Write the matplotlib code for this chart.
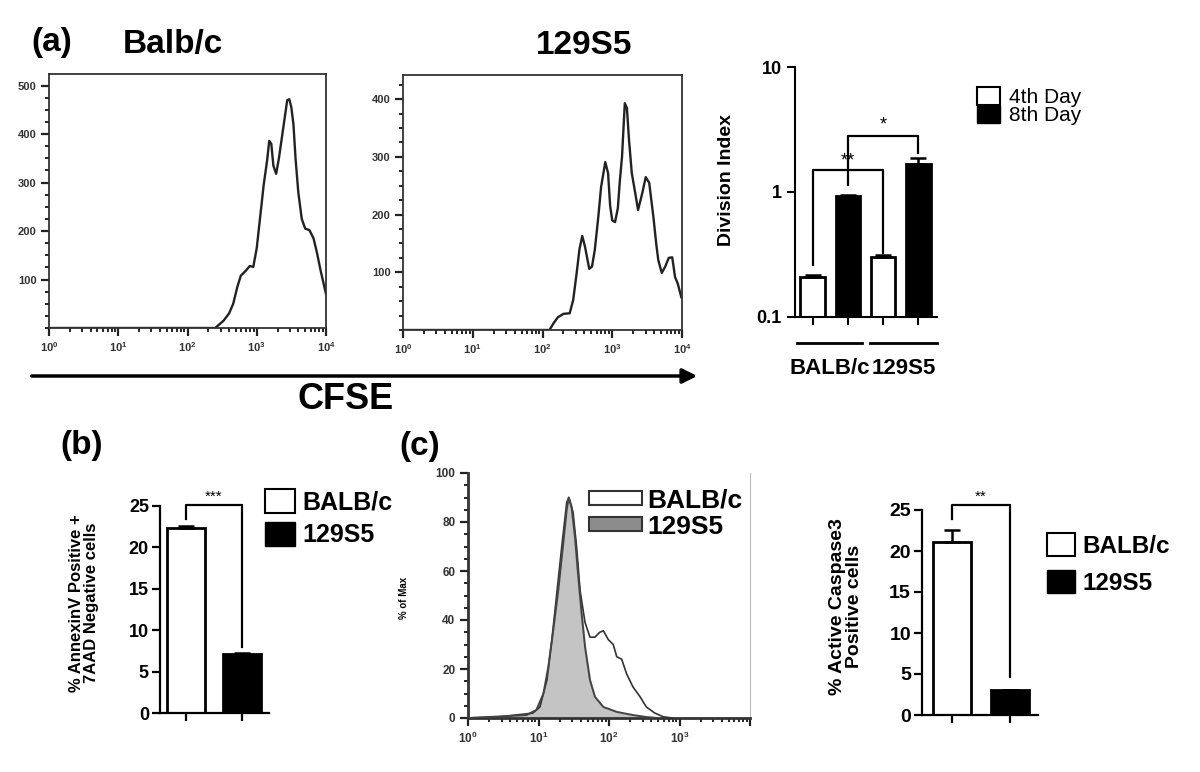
import numpy as np
import matplotlib
matplotlib.use("Agg")
import matplotlib.pyplot as plt
from matplotlib.patches import Patch, FancyArrowPatch
from matplotlib.ticker import LogLocator, NullFormatter, MultipleLocator, FixedLocator
import matplotlib.transforms as mtransforms

plt.rcParams['font.family'] = ['Liberation Sans', 'DejaVu Sans']
plt.rcParams['mathtext.fontset'] = 'custom'
plt.rcParams['mathtext.rm'] = 'Liberation Sans:bold'
plt.rcParams['mathtext.bf'] = 'Liberation Sans:bold'

# (a) CFSE histograms, x as log10(CFSE)
cfse_log_balb = [0.0, 2.40, 2.44, 2.52, 2.60, 2.66, 2.72, 2.77, 2.84, 2.90,
                 2.95, 3.00, 3.05, 3.10, 3.15, 3.18, 3.21, 3.24, 3.28, 3.32,
                 3.36, 3.40, 3.44, 3.47, 3.50, 3.53, 3.56, 3.60, 3.65, 3.70,
                 3.76, 3.82, 3.87, 3.92, 3.96, 4.0]
counts_balb = [0, 0, 5, 15, 30, 50, 85, 108, 118, 128,
               126, 165, 230, 295, 346, 386, 380, 335, 318, 350,
               390, 430, 470, 472, 455, 420, 350, 280, 225, 205,
               202, 185, 155, 120, 95, 70]

cfse_log_129 = [0.0, 2.10, 2.16, 2.22, 2.30, 2.39, 2.44, 2.49, 2.53, 2.57,
                2.61, 2.67, 2.71, 2.75, 2.80, 2.84, 2.90, 2.94, 2.97, 3.00,
                3.04, 3.08, 3.11, 3.14, 3.18, 3.21, 3.24, 3.28, 3.33, 3.37,
                3.43, 3.48, 3.53, 3.59, 3.63, 3.66, 3.71, 3.76, 3.81, 3.86,
                3.90, 3.94, 3.99]
counts_129 = [0, 0, 12, 22, 28, 29, 52, 99, 140, 163,
              144, 106, 110, 139, 196, 248, 291, 272, 215, 190,
              187, 211, 260, 300, 393, 385, 330, 272, 237, 208,
              237, 265, 255, 196, 150, 121, 99, 110, 125, 126,
              92, 80, 57]

# (a) division index
div_groups = ["BALB/c", "129S5"]
div_values = [0.21, 0.93, 0.30, 1.67]
div_errors = [0.008, 0.012, 0.015, 0.20]
div_colors = ["white", "black", "white", "black"]
div_days = ["4th Day", "8th Day"]

# (b) annexin V
strains = ["BALB/c", "129S5"]
annexin_values = [22.4, 7.1]
annexin_errors = [0.15, 0.15]

# (c) caspase3 histogram (% of max), x as log10(intensity)
casp_log_129 = [0.0, 0.36, 0.83, 0.97, 1.07, 1.14, 1.21, 1.28, 1.35, 1.40,
                1.43, 1.47, 1.52, 1.56, 1.61, 1.66, 1.73, 1.80, 1.92, 2.11,
                2.34, 2.53, 2.7]
pct_129 = [0, 0.5, 1.2, 3.3, 10, 21, 36, 52, 71, 85,
           90, 86, 73, 59, 43, 29, 15.5, 8.7, 4.5, 2.5,
           1.2, 0.4, 0]
casp_log_balb = [0.0, 0.45, 0.92, 1.02, 1.12, 1.19, 1.26, 1.33, 1.40, 1.43,
                 1.49, 1.54, 1.59, 1.66, 1.73, 1.80, 1.87, 1.92, 1.99, 2.06,
                 2.11, 2.18, 2.25, 2.34, 2.44, 2.53, 2.65, 2.77, 2.9]
pct_balb = [0, 0.5, 2, 4.5, 15.5, 32, 51, 70, 88, 90,
            84, 70, 52, 39, 33, 33, 35, 35.6, 32, 30,
            25, 24, 18, 12.7, 8.7, 4.5, 2, 0.5, 0]

# (c) active caspase3
caspase_values = [21.1, 3.0]
caspase_errors = [1.5, 0.1]

W, H = 1200, 772
fig = plt.figure(figsize=(12, 7.72), dpi=100)


def px_box(x0, y0, x1, y1):
    return [x0 / W, 1 - y1 / H, (x1 - x0) / W, (y1 - y0) / H]


def fpos(x, y):
    return (x / W, 1 - y / H)


decade_labels = ["$10^{0}$", "$10^{1}$", "$10^{2}$", "$10^{3}$", "$10^{4}$"]


def style_hist(ax, ymax, yticks, yminor, xlabels, lsize):
    ax.set_xscale("log")
    ax.set_xlim(1, 1e4)
    ax.set_ylim(0, ymax)
    ax.xaxis.set_major_locator(FixedLocator([1, 10, 100, 1000, 10000]))
    ax.set_xticklabels(xlabels)
    ax.xaxis.set_minor_locator(LogLocator(base=10, subs=np.arange(2, 10)))
    ax.xaxis.set_minor_formatter(NullFormatter())
    ax.set_yticks(yticks)
    ax.yaxis.set_minor_locator(MultipleLocator(yminor))
    ax.tick_params(which="major", direction="out", length=6, width=1.6,
                   labelsize=lsize, colors="#222222", pad=3)
    ax.tick_params(which="minor", direction="out", length=3, width=1.2)
    for lab in ax.get_xticklabels() + ax.get_yticklabels():
        lab.set_fontweight("bold")
        lab.set_color("#333333")
    for s in ax.spines.values():
        s.set_linewidth(1.3)
        s.set_color("#333333")


# ---- (a) CFSE histograms ----
ax1 = fig.add_axes(px_box(49, 74, 326, 328))
ax1.plot(10 ** np.array(cfse_log_balb), counts_balb, color="#222222", lw=1.7)
style_hist(ax1, 524, [100, 200, 300, 400, 500], 25, decade_labels, 8)

ax2 = fig.add_axes(px_box(403, 75, 682, 330))
ax2.plot(10 ** np.array(cfse_log_129), counts_129, color="#222222", lw=1.7)
style_hist(ax2, 442, [100, 200, 300, 400], 25, decade_labels, 8)

fig.text(*fpos(52, 42), "(a)", fontsize=24, fontweight="bold", ha="center", va="center")
fig.text(*fpos(173, 45), "Balb/c", fontsize=24, fontweight="bold", ha="center", va="center")
fig.text(*fpos(584, 45), "129S5", fontsize=24, fontweight="bold", ha="center", va="center")

fig.add_artist(FancyArrowPatch(fpos(29, 376), fpos(700, 376), transform=fig.transFigure,
                               arrowstyle="-|>", mutation_scale=22, lw=2.5, color="black"))
fig.text(*fpos(346, 400), "CFSE", fontsize=26, fontweight="bold", ha="center", va="center")

# ---- (a) division index ----
axd = fig.add_axes(px_box(795, 67, 937, 317))
xd = np.arange(len(div_values))
axd.bar(xd, div_values, width=0.7, color=div_colors, edgecolor="black", lw=2,
        yerr=[np.zeros(len(div_errors)), div_errors], capsize=6,
        error_kw=dict(elinewidth=1.8, capthick=1.8, ecolor="black"))
axd.set_yscale("log")
axd.set_ylim(0.1, 10)
axd.set_xlim(-0.5, 3.53)
axd.set_yticks([0.1, 1, 10])
axd.set_yticklabels(["0.1", "1", "10"])
axd.yaxis.set_minor_locator(plt.NullLocator())
axd.set_xticks(xd)
axd.set_xticklabels([])
axd.tick_params(direction="out", length=6, width=1.5, labelsize=13)
for lab in axd.get_yticklabels():
    lab.set_fontweight("bold")
for s in ["top", "right"]:
    axd.spines[s].set_visible(False)
for s in ["left", "bottom"]:
    axd.spines[s].set_linewidth(1.5)
axd.set_ylabel("Division Index", fontsize=14, fontweight="bold")
axd.yaxis.set_label_coords(-0.42, 0.55)

# significance brackets
axd.plot([0, 0, 2, 2], [0.26, 1.5, 1.5, 0.325], color="black", lw=1.6, clip_on=False)
axd.text(1, 1.52, "**", ha="center", va="bottom", fontsize=13)
axd.plot([1, 1, 3, 3], [1.14, 2.8, 2.8, 2.05], color="black", lw=1.6, clip_on=False)
axd.text(2, 2.95, "*", ha="center", va="bottom", fontsize=13)

# group lines & labels under the axis
trans = mtransforms.blended_transform_factory(axd.transData, axd.transAxes)
for g0, g1 in [(-0.44, 1.40), (1.63, 3.53)]:
    axd.plot([g0, g1], [-0.104, -0.104], color="black", lw=2, transform=trans, clip_on=False)
axd.text(0.5, -0.205, div_groups[0], transform=trans, ha="center", va="center",
         fontsize=16, fontweight="bold")
axd.text(2.6, -0.205, div_groups[1], transform=trans, ha="center", va="center",
         fontsize=16, fontweight="bold")

fig.legend(handles=[Patch(facecolor="white", edgecolor="black", lw=1.5, label=div_days[0]),
                    Patch(facecolor="black", edgecolor="black", label=div_days[1])],
           loc="upper left", bbox_to_anchor=fpos(977, 87), frameon=False,
           fontsize=15, handlelength=1.1, handleheight=0.95, handletextpad=0.45,
           labelspacing=-0.1, borderpad=0, borderaxespad=0)


def style_bar(ax, ymax, lsize):
    ax.set_ylim(0, ymax)
    ax.set_yticks([0, 5, 10, 15, 20, 25])
    ax.set_xticklabels([])
    ax.tick_params(direction="out", length=6, width=1.6, labelsize=lsize, pad=2)
    for lab in ax.get_yticklabels():
        lab.set_fontweight("bold")
    for s in ["top", "right"]:
        ax.spines[s].set_visible(False)
    for s in ["left", "bottom"]:
        ax.spines[s].set_linewidth(1.6)


def strain_legend(anchor, size, hl, hh, ls):
    fig.legend(handles=[Patch(facecolor="white", edgecolor="black", lw=1.5, label=strains[0]),
                        Patch(facecolor="black", edgecolor="black", label=strains[1])],
               loc="upper left", bbox_to_anchor=anchor, frameon=False,
               prop={"weight": "bold", "size": size}, handlelength=hl, handleheight=hh,
               handletextpad=0.3, labelspacing=ls, borderpad=0, borderaxespad=0)


# ---- (b) annexin V ----
axb = fig.add_axes(px_box(160, 506, 269, 713))
xb = np.arange(len(annexin_values))
axb.bar(xb, annexin_values, width=0.68, color=["white", "black"], edgecolor="black", lw=2,
        yerr=[np.zeros(2), annexin_errors], capsize=6,
        error_kw=dict(elinewidth=1.8, capthick=1.8, ecolor="black"))
axb.set_xlim(-0.464, 1.48)
axb.set_xticks(xb)
style_bar(axb, 25, 13)
axb.set_ylabel("% AnnexinV Positive +\n7AAD Negative cells", fontsize=12, fontweight="bold",
               linespacing=1.0)
axb.yaxis.set_label_coords(-0.56, 0.53)
axb.plot([0, 0, 1, 1], [23.4, 25.1, 25.1, 8.0], color="black", lw=1.6, clip_on=False)
axb.text(0.5, 25.3, "***", ha="center", va="bottom", fontsize=11)
fig.text(*fpos(82, 445), "(b)", fontsize=24, fontweight="bold", ha="center", va="center")
strain_legend(fpos(265, 489), 18, 1.2, 1.1, 0.3)

# ---- (c) caspase3 histogram ----
axh = fig.add_axes(px_box(468, 473, 750, 718))
xg = 10 ** np.array(casp_log_129)
axh.fill_between(xg, pct_129, color="#c4c4c4", zorder=1)
axh.plot(xg, pct_129, color="#444444", lw=1.4, zorder=3)
axh.plot(10 ** np.array(casp_log_balb), pct_balb, color="#333333", lw=1.2, zorder=2)
style_hist(axh, 100, [0, 20, 40, 60, 80, 100], 5, decade_labels[:4] + [""], 8.5)
axh.spines["top"].set_visible(False)
axh.spines["right"].set_color("#bbbbbb")
axh.spines["right"].set_linewidth(0.8)
axh.spines["left"].set_linewidth(2)
axh.spines["bottom"].set_linewidth(2)
axh.set_ylabel("% of Max", fontsize=7, fontweight="bold")
axh.yaxis.set_label_coords(-0.21, 0.49)
fig.text(*fpos(420, 447), "(c)", fontsize=24, fontweight="bold", ha="center", va="center")
fig.legend(handles=[Patch(facecolor="white", edgecolor="#333333", lw=1.5, label=strains[0]),
                    Patch(facecolor="#8c8c8c", edgecolor="#333333", lw=1.5, label=strains[1])],
           loc="upper left", bbox_to_anchor=fpos(589, 488), frameon=False,
           prop={"weight": "bold", "size": 19}, handlelength=2.0, handleheight=0.45,
           handletextpad=0.2, labelspacing=0.1, borderpad=0, borderaxespad=0)

# ---- (c) active caspase3 bars ----
axc = fig.add_axes(px_box(922, 510, 1038, 715))
xc = np.arange(len(caspase_values))
axc.bar(xc, caspase_values, width=0.66, color=["white", "black"], edgecolor="black", lw=2,
        yerr=[np.zeros(2), caspase_errors], capsize=6,
        error_kw=dict(elinewidth=1.8, capthick=1.8, ecolor="black"))
axc.set_xlim(-0.517, 1.48)
axc.set_xticks(xc)
style_bar(axc, 25, 14)
axc.set_ylabel("% Active Caspase3\nPositive cells", fontsize=14, fontweight="bold",
               linespacing=1.0)
axc.yaxis.set_label_coords(-0.51, 0.53)
axc.plot([0, 0, 1, 1], [23.9, 25.6, 25.6, 4.6], color="black", lw=1.6, clip_on=False)
axc.text(0.5, 25.8, "**", ha="center", va="bottom", fontsize=11)
strain_legend(fpos(1047, 533), 17.5, 1.17, 1.08, 0.5)

fig.savefig("out.png", dpi=100)
